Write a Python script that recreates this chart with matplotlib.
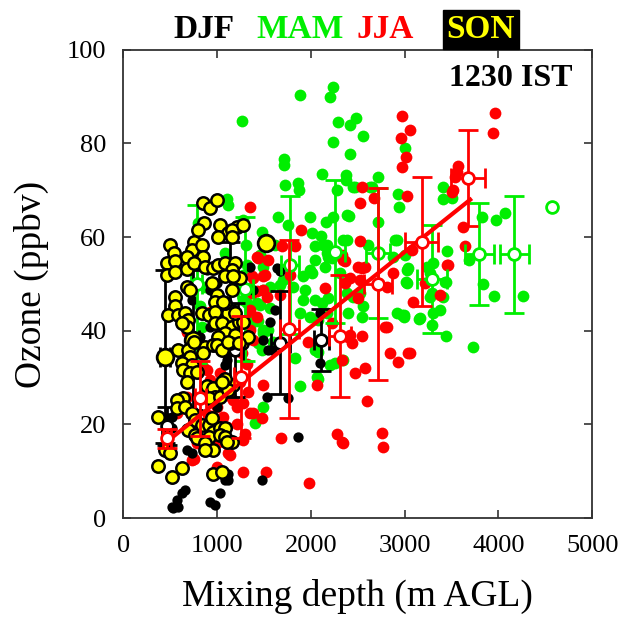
import numpy as np
import matplotlib
matplotlib.use("Agg")
import matplotlib.pyplot as plt

plt.rcParams['font.family'] = ['Liberation Serif', 'DejaVu Serif']

# ---- data (mixing depth m AGL, ozone ppbv) ----
mam_x = [1887, 2242, 2207, 2295, 2420, 2484, 2562, 2242, 2420, 1716, 1716, 2118, 2377, 2722, 1727, 1866,
         1876, 2285, 2455, 2633, 2935, 2946, 1656, 1993, 2235, 2391, 2164, 1762, 2722, 1485, 2011, 2107,
         2384, 2918, 2047, 2171, 2615, 1620, 1265, 1105, 1123, 2135, 2171, 2189, 1308, 1087, 803, 1496,
         1993, 2349, 2403, 2473, 2377, 3006, 2651, 3415, 3415, 3504, 3824, 3976, 4072, 2899, 3450, 3682,
         3041, 3237, 3308, 3273, 3433, 3024, 3017, 3841, 3955, 4267, 3291, 3379, 3308, 3166, 2995, 3291,
         3734, 3443, 3159, 2971, 2918, 3443, 3415, 3273, 2562, 2544, 2402, 2526, 2455, 2384, 2349, 1460,
         1514, 2047, 2224, 1922, 2011, 2153, 2313, 1815, 1940, 1922, 2047, 2118, 2189, 1887, 1993, 2082,
         2171, 1709, 1674, 1567, 1514, 1460, 1567, 1442, 1549, 1496, 1602, 1478, 1834, 2047, 2082, 2207,
         2260, 1887, 2082, 1496, 1407, 2989, 3024, 2882, 3006, 1354, 1496, 1283, 1425, 1354, 1496, 1442,
         1319, 1283, 2065, 1283, 1247, 1319, 874, 821, 839, 1354, 839, 874]
mam_y = [90.4, 92.0, 90.0, 84.5, 84.0, 85.4, 81.5, 80.4, 77.8, 76.7, 75.4, 73.5, 73.3, 72.9, 71.2, 71.6,
         70.1, 70.1, 70.8, 70.8, 69.2, 66.5, 64.4, 64.4, 64.4, 64.7, 63.3, 62.5, 63.3, 61.2, 60.8, 60.3,
         59.4, 59.4, 58.0, 58.3, 58.3, 58.3, 84.8, 68.1, 66.9, 58.3, 56.6, 55.8, 58.3, 56.6, 63.0, 53.7,
         53.0, 59.4, 64.6, 70.8, 72.2, 79.0, 70.8, 70.8, 68.1, 68.3, 64.4, 63.7, 65.2, 59.4, 57.1, 55.1,
         53.3, 53.7, 54.4, 52.3, 50.5, 53.0, 50.5, 50.0, 47.4, 47.4, 48.0, 44.4, 43.7, 42.7, 43.4, 41.2,
         36.6, 38.9, 42.5, 43.4, 43.7, 50.5, 47.2, 47.3, 45.2, 43.0, 43.7, 48.0, 47.3, 48.0, 33.8, 56.2,
         55.1, 55.1, 55.5, 51.6, 52.3, 53.7, 52.3, 49.4, 48.7, 46.6, 46.6, 45.9, 46.9, 43.7, 43.0, 42.3,
         43.7, 50.9, 49.8, 49.4, 48.4, 45.5, 44.8, 42.0, 40.2, 39.5, 37.7, 35.9, 34.1, 35.9, 35.5, 32.7,
         33.1, 28.1, 29.8, 23.8, 20.2, 43.0, 50.1, 55.8, 56.2, 49.1, 48.7, 46.6, 45.9, 40.9, 40.2, 37.3,
         54.1, 51.9, 30.2, 63.7, 49.4, 45.9, 49.4, 45.2, 40.9, 43.0, 37.0, 28.1]

jja_x = [3965, 3947, 2971, 3059, 2963, 3017, 2971, 3574, 3557, 3539, 3521, 3504, 3024, 2544, 2526, 3628,
         3646, 2526, 2349, 3077, 3450, 2882, 2544, 2669, 1894, 1692, 1834, 2331, 1425, 1347, 1442, 1549,
         1372, 1496, 1780, 2367, 2508, 1514, 1389, 1496, 1425, 1674, 1354, 2153, 2420, 2367, 2580, 2526,
         2508, 2231, 1975, 2420, 2438, 2544, 2793, 2846, 2935, 3041, 2331, 2473, 2580, 2065, 2598, 1496,
         1389, 1478, 1684, 2278, 2331, 2758, 2775, 1524, 1986, 2811, 3219, 3468, 3379, 3095, 2811, 2402,
         3059, 2342, 1372, 1425, 1354, 1389, 1069, 1265, 892, 928, 999, 1069, 1140, 1176, 1212, 1283,
         1354, 999, 1069, 1105, 1034, 1283, 679, 856, 679, 714, 572, 732, 803, 999, 1123, 1276, 1532,
         1087, 750, 1140, 1034, 1140, 1212, 1300, 900, 1000, 1247, 1336, 786, 1318, 928]
jja_y = [86.5, 82.2, 85.9, 82.9, 81.1, 77.1, 74.9, 75.1, 74.0, 72.9, 70.1, 69.7, 68.7, 70.8, 67.2, 62.2,
         58.0, 59.1, 55.1, 57.3, 54.1, 52.3, 53.3, 68.3, 61.5, 58.0, 58.0, 56.2, 55.8, 66.5, 55.5, 55.1,
         51.6, 51.6, 51.9, 54.8, 53.7, 51.9, 51.2, 48.7, 48.4, 47.6, 44.4, 49.1, 51.2, 50.1, 53.6, 50.9,
         46.9, 41.6, 37.7, 39.1, 37.3, 38.9, 40.9, 35.2, 33.4, 35.2, 33.8, 30.9, 32.0, 28.4, 24.9, 28.4,
         22.4, 21.3, 17.0, 17.9, 16.3, 18.2, 15.2, 9.8, 7.5, 49.4, 50.1, 54.1, 47.6, 46.2, 40.9, 38.7,
         35.3, 16.1, 48.0, 43.0, 40.2, 38.0, 35.9, 35.2, 31.6, 29.5, 28.1, 27.4, 28.8, 25.2, 23.8, 24.5,
         22.4, 23.8, 21.6, 19.5, 18.1, 16.7, 39.8, 32.3, 25.9, 22.7, 22.4, 12.4, 19.5, 11.0, 13.8, 9.9, 47.3,
         35.5, 12.7, 13.5, 31.0, 26.0, 20.0, 18.0, 22.0, 16.0, 29.0, 27.0, 16.0, 33.0, 44.1]

djf_x = [519, 572, 626, 661, 530, 580, 928, 981, 1034, 1123, 1485, 1869, 1638, 1389, 1620, 1567, 1496,
         1549, 1532, 1762, 2100, 1105, 1087, 892, 928, 1212, 928, 821, 999, 519, 679, 732, 1123, 1354,
         1667, 1585, 2100, 1087, 483, 519, 999, 946, 696, 732, 1194]
djf_y = [2.4, 3.8, 5.3, 6.0, 2.1, 2.3, 3.5, 2.8, 5.3, 8.1, 8.1, 17.4, 53.3, 48.7, 44.4, 41.9, 38.0,
         35.9, 25.9, 25.6, 33.1, 33.8, 32.7, 53.0, 48.7, 50.9, 40.9, 38.7, 23.8, 21.6, 14.5, 13.8, 9.5, 53.7,
         52.8, 35.9, 43.7, 8.1, 21.3, 19.2, 50.1, 49.8, 48.7, 46.6, 48.7]

son_x = [856, 928, 999, 864, 803, 1034, 1212, 1123, 1158, 1016, 1165, 1283, 501, 547, 750, 732, 679,
         839, 856, 465, 554, 465, 554, 679, 750, 874, 963, 1016, 1087, 1194, 1158, 1247, 1087, 1176, 946,
         999, 981, 1087, 1158, 679, 714, 554, 554, 483, 590, 661, 696, 679, 626, 839, 910, 981, 1069, 981,
         1052, 1158, 1230, 1283, 1087, 1194, 1265, 1140, 1016, 1194, 1336, 874, 963, 590, 696, 750, 714,
         626, 732, 643, 714, 785, 679, 856, 999, 1052, 643, 572, 572, 661, 376, 892, 963, 981, 910, 1034,
         1087, 1176, 1123, 732, 768, 696, 768, 785, 839, 910, 946, 963, 910, 874, 1034, 1087, 1034, 1087,
         1158, 1105, 963, 874, 448, 501, 376, 519, 626, 963, 1052, 1087, 1052, 1123, 1230]
son_y = [67.2, 66.2, 68.0, 63.0, 61.5, 62.6, 62.2, 60.8, 61.5, 60.0, 60.0, 62.6, 58.3, 56.6, 59.0, 57.3,
         55.8, 58.3, 55.8, 54.4, 54.8, 52.0, 52.5, 53.1, 54.4, 53.7, 53.3, 54.1, 54.4, 54.4, 53.0, 51.2,
         51.6, 51.6, 50.1, 47.6, 46.2, 45.9, 48.7, 49.4, 48.7, 47.3, 45.2, 43.4, 43.4, 43.7, 42.3, 40.9,
         41.6, 43.7, 43.4, 44.1, 46.2, 41.6, 41.6, 40.9, 41.9, 41.9, 39.5, 39.1, 37.3, 37.3, 38.7, 43.7,
         38.7, 36.6, 37.0, 35.9, 35.9, 37.7, 34.5, 33.1, 32.7, 31.6, 30.9, 31.3, 29.1, 35.2, 37.0, 35.9,
         25.6, 25.2, 23.4, 23.8, 21.6, 28.1, 27.7, 25.9, 25.6, 25.9, 28.8, 28.4, 27.4, 22.4, 20.9, 18.8,
         17.7, 17.0, 19.9, 19.9, 21.3, 18.4, 17.4, 16.0, 19.2, 19.2, 17.7, 17.4, 16.3, 16.3, 14.5, 14.5,
         14.5, 13.8, 11.1, 8.8, 10.6, 9.5, 9.9, 29.8, 29.1, 37.7, 37.3]

# binned means with standard deviations
mam_mx = [785, 1300, 1780, 2260, 2715, 3291, 3795, 4172, 4570]
mam_my = [50.0, 49.0, 54.0, 56.9, 56.6, 51.1, 56.3, 56.3, 66.5]
mam_ey = [16.9, 15.4, 14.7, 15.3, 13.9, 11.5, 10.9, 12.5, 0]
mam_ex = [60, 80, 100, 110, 130, 160, 155, 150, 0]

jja_mx = [465, 821, 1258, 1770, 2313, 2715, 3184, 3680]
jja_my = [17.0, 25.6, 30.2, 40.4, 38.9, 49.9, 59.0, 72.6]
jja_ey = [2.0, 8.0, 13.0, 19.0, 13.0, 20.5, 13.8, 10.2]
jja_ex = [40, 60, 80, 100, 120, 150, 175, 180]

djf_mx = [465, 1194, 1674, 2111]
djf_my = [19.7, 35.9, 37.4, 38.0]
djf_ey = [4.0, 10.0, 11.0, 6.6]
djf_ex = [50, 80, 100, 80]

son_mx = [448, 746, 1140, 1521]
son_my = [34.5, 38.0, 43.8, 58.7]
son_ey = [18.5, 15.0, 15.2, 0]
son_ex = [50, 60, 80, 0]

jja_fit_x = [465, 3700]
jja_fit_y = [16.3, 68.0]

GREEN = '#00ee00'
RED = '#ff0000'

fig = plt.figure(figsize=(6.22, 6.31), dpi=100)
ax = fig.add_axes([0.198, 0.179, 0.754, 0.742])

# scatter points
ax.scatter(mam_x, mam_y, s=72, color=GREEN, linewidths=0, zorder=2)
ax.scatter(jja_x, jja_y, s=72, color=RED, linewidths=0, zorder=3)
ax.scatter(djf_x, djf_y, s=55, color='black', linewidths=0, zorder=4)


def draw_means(mx, my, ex, ey, color, face, edge, z, ms=8.5):
    mx, my, ex, ey = map(np.asarray, (mx, my, ex, ey))
    has = ey > 0
    ax.errorbar(mx[has], my[has], xerr=ex[has], yerr=ey[has], fmt='none', ecolor=color,
                elinewidth=2, capsize=7, capthick=2, zorder=z)
    ax.plot(mx, my, 'o', ms=ms, mfc=face, mec=edge, mew=2, zorder=z + 0.5)


draw_means(mam_mx, mam_my, mam_ex, mam_ey, GREEN, 'white', GREEN, 5)
draw_means(djf_mx, djf_my, djf_ex, djf_ey, 'black', 'white', 'black', 5.2)
draw_means(son_mx, son_my, son_ex, son_ey, 'black', 'yellow', 'black', 5.4, ms=12)

ax.scatter(son_x, son_y, s=80, color='yellow', edgecolors='black', linewidths=1.8, zorder=6)

draw_means(jja_mx, jja_my, jja_ex, jja_ey, RED, 'white', RED, 7)
ax.plot(jja_fit_x, jja_fit_y, color=RED, lw=3, zorder=7.2)

ax.set_xlim(0, 5000)
ax.set_ylim(0, 100)
ax.set_xticks(np.arange(0, 5001, 1000))
ax.set_yticks(np.arange(0, 101, 20))
ax.tick_params(direction='in', top=True, right=True, length=6, width=1.2,
               labelsize=19, color='#333333')
ax.tick_params(axis='x', pad=12)
ax.tick_params(axis='y', pad=12)
for sp in ax.spines.values():
    sp.set_color('#333333')
    sp.set_linewidth(1.3)

ax.set_xlabel('Mixing depth (m AGL)', fontsize=27)
ax.set_ylabel('Ozone (ppbv)', fontsize=27)
ax.xaxis.set_label_coords(0.5, -0.13)
ax.yaxis.set_label_coords(-0.195, 0.5)
ax.xaxis.label.set_va('top')
ax.yaxis.label.set_va('center')

ax.text(4136, 93.8, '1230 IST', fontsize=23, fontweight='bold', ha='center', va='center')

# season key above the frame
ty = 0.953
fig.text(204 / 622, ty, 'DJF', color='black', fontsize=24, fontweight='bold', ha='center', va='center')
fig.text(300 / 622, ty, 'MAM', color=GREEN, fontsize=24, fontweight='bold', ha='center', va='center')
fig.text(385 / 622, ty, 'JJA', color=RED, fontsize=24, fontweight='bold', ha='center', va='center')
fig.text(481 / 622, ty, 'SON', color='yellow', fontsize=24, fontweight='bold', ha='center', va='center',
         bbox=dict(facecolor='black', edgecolor='black', pad=3))

fig.savefig('out.png', dpi=100)
